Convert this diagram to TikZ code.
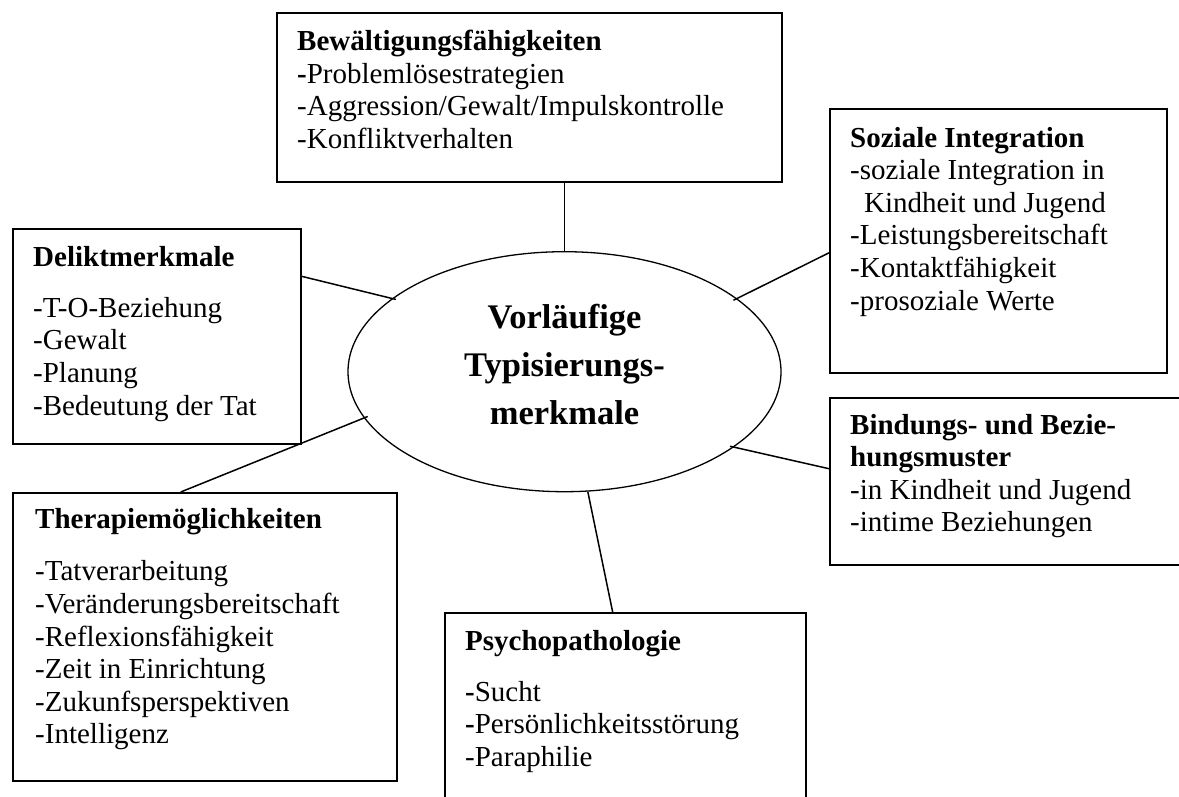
\documentclass[tikz,border=0pt]{standalone}
\usepackage{fontspec}
\setmainfont{Liberation Serif}
\usetikzlibrary{shapes.geometric,calc}
\begin{document}
\begin{tikzpicture}[x=1pt,y=-1pt,
  box/.style={draw, line width=1.7pt, inner sep=0pt, anchor=north west},
  txt/.style={inner sep=0pt, anchor=base west, font=\fontsize{29}{32.6}\selectfont},
  link/.style={line width=1.5pt},
  poke/.style={shorten >=-4pt}]
\useasboundingbox (0,0) rectangle (1179,796);
\clip (0,0) rectangle (1179,796);
% boxes
\node[box, minimum width=505pt, minimum height=169pt] (B) at (276,12) {};
\node[box, minimum width=288pt, minimum height=215pt] (D) at (12,228) {};
\node[box, minimum width=337pt, minimum height=264pt] (S) at (829,108) {};
\node[box, minimum width=360pt, minimum height=167pt] (Bi) at (829,397) {};
\node[box, minimum width=384pt, minimum height=288pt] (T) at (12,492) {};
\node[box, minimum width=361pt, minimum height=200pt] (P) at (444,612) {};
\node[draw, ellipse, line width=1.3pt, minimum width=433pt, minimum height=240pt, inner sep=0pt] (E) at (564.5,371.7) {};
% connectors
\draw[link] (B.south -| E.north) -- (E.north);
\draw[link, poke] ($(D.north east)!0.223!(D.south east)$) -- (E.157);
\draw[link, poke] ($(S.north west)!0.545!(S.south west)$) -- (E.23.3);
\draw[link, poke] ($(Bi.north west)!0.425!(Bi.south west)$) -- (E.336.8);
\draw[link, poke] ($(T.north west)!0.4375!(T.north east)$) -- (E.193.8);
\draw[link] ($(P.north west)!0.465!(P.north east)$) -- (E.281.3);
% texts
\node[txt] (Bt) at (297,50.7) {\begin{tabular}[t]{@{}l@{}}\textbf{Bewältigungsfähigkeiten}\\
\textbf{-}Problemlösestrategien\\ -Aggression/Gewalt/Impulskontrolle\\ -Konfliktverhalten\end{tabular}};
\node[txt] (Dt) at (33,266.7) {\begin{tabular}[t]{@{}l@{}}\textbf{Deliktmerkmale}\\[18pt]
-T-O-Beziehung\\ -Gewalt\\ -Planung\\ -Bedeutung der Tat\end{tabular}};
\node[txt] (St) at (850,147) {\begin{tabular}[t]{@{}l@{}}\textbf{Soziale Integration}\\
-soziale Integration in\\ \hspace{14pt}Kindheit und Jugend\\ -Leistungsbereitschaft\\ -Kontaktfähigkeit\\ -prosoziale Werte\end{tabular}};
\node[txt] (Bit) at (850,434) {\begin{tabular}[t]{@{}l@{}}\textbf{Bindungs- und Bezie-}\\ \textbf{hungsmuster}\\
-in Kindheit und Jugend\\ -intime Beziehungen\end{tabular}};
\node[txt] (Tt) at (35,528.3) {\begin{tabular}[t]{@{}l@{}}\textbf{Therapiemöglichkeiten}\\[20pt]
-Tatverarbeitung\\ -Veränderungsbereitschaft\\ -Reflexionsfähigkeit\\ -Zeit in Einrichtung\\ -Zukunfsperspektiven\\ -Intelligenz\end{tabular}};
\node[txt] (Pt) at (465,650.7) {\begin{tabular}[t]{@{}l@{}}\textbf{Psychopathologie}\\[18pt]
\textbf{-}Sucht\\ \textbf{-}Persönlichkeitsstörung\\ -Paraphilie\end{tabular}};
\node[inner sep=0pt, anchor=base, font=\fontsize{34.5}{48}\selectfont\bfseries] (Et) at (564.5,328) {\begin{tabular}[t]{@{}c@{}}Vorläufige\\ Typisierungs-\\ merkmale\end{tabular}};
\end{tikzpicture}
\end{document}
